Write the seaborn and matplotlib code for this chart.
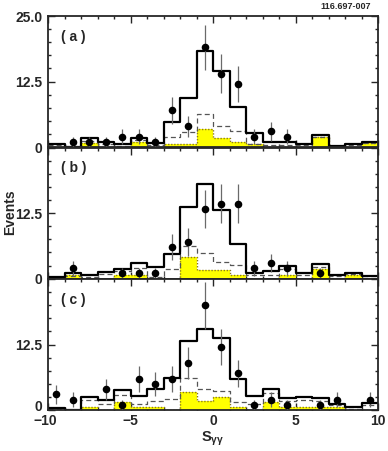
import matplotlib
matplotlib.use("Agg")
import matplotlib.pyplot as plt
import matplotlib.transforms as mtransforms
import seaborn as sns
import numpy as np
import pandas as pd
from matplotlib.ticker import MultipleLocator

# bins of S_gg, width 1 from -10 to 10
edges = list(range(-10, 11))
centers = [e + 0.5 for e in edges[:-1]]

# panel (a)
a_total = [0.7, 0.0, 1.7, 1.0, 0.6, 1.7, 0.8, 4.8, 9.3, 18.4, 14.6, 7.6, 2.7, 0.95, 0.95, 0.6, 2.3, 0.15, 0.6, 0.9]
a_dashed = [0.5, 0.0, 1.2, 0.7, 0.3, 1.4, 0.5, 2.0, 2.9, 6.3, 4.0, 3.1, 0.7, 0.5, 0.5, 0.5, 2.0, 0.1, 0.5, 0.8]
a_yellow = [0.0, 0.0, 0.85, 0.0, 0.0, 0.9, 0.0, 0.7, 0.7, 3.4, 1.8, 0.9, 0.6, 0.0, 0.0, 0.0, 2.0, 0.0, 0.0, 0.8]
a_x = [-8.5, -7.5, -6.5, -5.5, -4.5, -3.5, -2.5, -1.5, -0.5, 0.5, 1.5, 2.5, 3.5, 4.5]
a_y = [1, 1, 1, 2, 2, 1, 7, 4, 19, 14, 12, 2, 3, 2]

# panel (b)
b_total = [0.4, 1.1, 0.8, 1.3, 1.9, 2.9, 2.3, 4.7, 13.7, 18.1, 13.1, 6.7, 1.1, 1.4, 2.5, 1.0, 2.8, 0.8, 1.1, 0.45]
b_dashed = [0.2, 0.6, 0.4, 0.9, 1.4, 2.1, 0.4, 1.8, 6.2, 4.9, 3.1, 2.6, 0.7, 0.7, 1.8, 0.7, 2.3, 0.5, 0.9, 0.2]
b_yellow = [0.0, 0.7, 0.0, 0.0, 0.8, 0.8, 0.0, 0.0, 4.2, 1.6, 1.6, 0.8, 0.0, 0.0, 0.8, 0.0, 1.8, 0.0, 0.7, 0.0]
b_x = [-8.5, -5.5, -4.5, -3.5, -2.5, -1.5, -0.5, 0.5, 1.5, 2.5, 3.5, 4.5, 6.5]
b_y = [2, 1, 1, 1, 6, 7, 13.3, 14.3, 14.3, 2, 3, 2, 1]

# panel (c)
c_total = [0.4, 0.0, 2.6, 2.0, 3.9, 2.8, 4.1, 6.1, 13.1, 15.4, 13.7, 6.0, 2.8, 4.0, 2.3, 2.6, 2.4, 1.1, 0.6, 1.3]
c_dashed = [0.2, 0.0, 2.0, 1.2, 2.9, 1.1, 1.8, 2.2, 6.1, 4.1, 3.6, 1.5, 1.1, 3.2, 1.8, 2.0, 1.8, 0.9, 0.3, 0.9]
c_yellow = [0.1, 0.0, 0.7, 0.0, 1.65, 0.7, 0.7, 0.0, 3.4, 1.7, 2.6, 0.7, 0.0, 1.65, 0.7, 0.7, 0.7, 0.7, 0.0, 0.0]
c_x = [-9.5, -8.5, -6.5, -5.5, -4.5, -3.5, -2.5, -1.5, -0.5, 0.5, 1.5, 2.5, 3.5, 4.5, 6.5, 7.5, 9.5]
c_y = [3, 2, 4, 1, 6, 5, 6, 9, 20, 12, 7, 1, 2, 1, 1, 2, 2]

x_ticks = [-10, -5, 0, 5, 10]
x_ticklabels = ['\u221210', '\u22125', '0', '5', '10']
y_ticks = [0, 12.5, 25]

panels = [
    ("( a )", a_total, a_dashed, a_yellow, a_x, a_y),
    ("( b )", b_total, b_dashed, b_yellow, b_x, b_y),
    ("( c )", c_total, c_dashed, c_yellow, c_x, c_y),
]

sns.set_style("ticks")
plt.rcParams['font.family'] = ['Liberation Sans', 'DejaVu Sans']
plt.rcParams['font.weight'] = 'bold'
plt.rcParams['mathtext.default'] = 'regular'

W, H = 388, 451
fig = plt.figure(figsize=(W / 100, H / 100), dpi=100)

left, right = 48, 378
tops = [16, 147.5, 279]
ph = 131.2


def hist(ax, vals, **kw):
    df = pd.DataFrame({"s": centers, "w": vals})
    sns.histplot(data=df, x="s", weights="w", bins=edges, element="step", ax=ax, **kw)


for i, (lab, tot, dsh, yel, px, py) in enumerate(panels):
    top = tops[i]
    ax = fig.add_axes([left / W, 1 - (top + ph) / H, (right - left) / W, ph / H])

    hist(ax, yel, fill=True, color="#ffff00", alpha=1, linewidth=0)
    hist(ax, yel, fill=False, color="#8a7a20", linestyle=(0, (1, 1.2)), linewidth=1.0)
    hist(ax, dsh, fill=False, color="#555555", linestyle=(0, (4, 2.5)), linewidth=0.9)
    hist(ax, tot, fill=False, color="black", linewidth=1.6)

    py_arr = np.asarray(py, dtype=float)
    ax.errorbar(px, py_arr, yerr=np.sqrt(py_arr), fmt='none', ecolor='#6a6a6a',
                elinewidth=0.9, zorder=4)
    sns.scatterplot(x=px, y=py_arr, color='black', s=30, edgecolor='black',
                    linewidth=0, ax=ax, zorder=5)

    ax.set_xlim(-10, 10)
    ax.set_ylim(0, 25)
    ax.set_xlabel('')
    ax.set_ylabel('')
    ax.set_xticks(x_ticks)
    ax.xaxis.set_minor_locator(MultipleLocator(1))
    ax.set_yticks(y_ticks)
    ax.yaxis.set_minor_locator(MultipleLocator(2.5))
    if i == 0:
        ax.set_yticklabels(['0', '12.5', '25.0'])
    else:
        ax.set_yticklabels(['0', '12.5', ''])
    if i < 2:
        ax.set_xticklabels([])
    else:
        ax.set_xticklabels(x_ticklabels)
    ax.tick_params(which='both', direction='in', top=True, right=True,
                   labelsize=10, width=1)
    ax.tick_params(axis='y', pad=4)
    ax.tick_params(axis='x', pad=3)
    ax.tick_params(which='major', length=5)
    ax.tick_params(which='minor', length=2.5)
    for t in ax.get_xticklabels() + ax.get_yticklabels():
        t.set_fontweight('bold')
    if i == 2:
        # lift the bottom "0" a little, as in the original, so it clears "-10"
        zero = ax.get_yticklabels()[0]
        zero.set_transform(zero.get_transform() +
                           mtransforms.ScaledTranslation(0, 4.5 / 100, fig.dpi_scale_trans))
        first = ax.get_xticklabels()[0]
        first.set_transform(first.get_transform() +
                            mtransforms.ScaledTranslation(-3 / 100, 0, fig.dpi_scale_trans))
    for sp in ax.spines.values():
        sp.set_linewidth(1.3)
    ax.text(-8.45, 21.0, lab, fontsize=10, fontweight='bold', ha='center', va='center')

fig.text(10 / W, 1 - 212 / H, 'Events', rotation=90, fontsize=10, fontweight='bold',
         ha='center', va='center')
fig.text(213 / W, 1 - 439 / H, r'S$_{\gamma\gamma}$', fontsize=10.5, fontweight='bold',
         ha='center', va='center')
fig.text(371 / W, 1 - 6.5 / H, '116.697-007', fontsize=6.5, fontweight='bold',
         ha='right', va='center')

fig.savefig('out.png', dpi=100)
